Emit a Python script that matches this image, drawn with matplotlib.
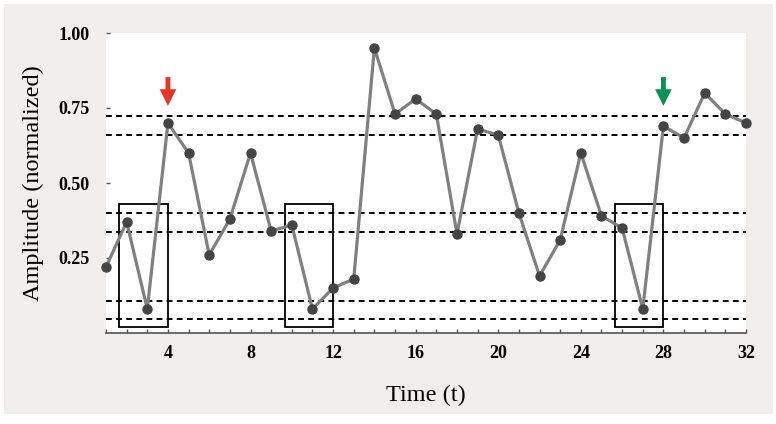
import matplotlib
matplotlib.use("Agg")
import matplotlib.pyplot as plt
from matplotlib.patches import Rectangle
from matplotlib.ticker import MultipleLocator, FixedLocator

t = list(range(1, 33))
amplitude = [0.22, 0.37, 0.08, 0.70, 0.60, 0.26, 0.38, 0.60, 0.34, 0.36,
             0.08, 0.15, 0.18, 0.95, 0.73, 0.78, 0.73, 0.33, 0.68, 0.66,
             0.40, 0.19, 0.31, 0.60, 0.39, 0.35, 0.08, 0.69, 0.65, 0.80,
             0.73, 0.70]
threshold_lines = [0.723, 0.660, 0.401, 0.337, 0.108, 0.046]
box_ends = [4, 12, 28]
box_width = 2.35
box_low, box_high = 0.02, 0.43
red_arrow_t = 4
green_arrow_t = 28
arrow_top, arrow_tip = 0.853, 0.757
yticks = [0.25, 0.50, 0.75, 1.00]
ytick_labels = ["0.25", "0.50", "0.75", "1.00"]
xticks = [4, 8, 12, 16, 20, 24, 28, 32]

fig = plt.figure(figsize=(7.76, 4.24), dpi=100, facecolor="white")
bg = Rectangle((4/776, 1-414/424), 769/776, 410/424,
               transform=fig.transFigure, facecolor="#f0efee",
               edgecolor="none", zorder=-10)
fig.patches.append(bg)
ax = fig.add_axes([106/776, 1-333/424, 640/776, 300/424])
ax.set_zorder(1)
ax.set_facecolor("white")
ax.set_xlim(1, 32)
ax.set_ylim(0, 1.0)

for y in threshold_lines:
    ax.axhline(y, color="black", lw=1.4, ls=(0, (3, 2.2)), zorder=2)

for e in box_ends:
    ax.add_patch(Rectangle((e - box_width, box_low), box_width, box_high - box_low,
                           fill=False, edgecolor="black", lw=1.3, zorder=3))

ax.plot(t, amplitude, color="#808080", lw=2.3, zorder=4, clip_on=False)
ax.plot(t, amplitude, ls="none", marker="o", ms=6.5, color="#444444",
        zorder=5, clip_on=False)

for xt, col in [(red_arrow_t, "#e8352a"), (green_arrow_t, "#0a9150")]:
    ax.annotate("", xy=(xt, arrow_tip), xytext=(xt, arrow_top),
                arrowprops=dict(arrowstyle="simple,head_width=1.2,head_length=1.2,tail_width=0.35",
                                color=col, mutation_scale=10, shrinkA=0, shrinkB=0, lw=0),
                zorder=6)

for s in ["left", "top", "right"]:
    ax.spines[s].set_visible(False)
ax.spines["bottom"].set_color("#555555")
ax.spines["bottom"].set_linewidth(1.2)

ax.xaxis.set_major_locator(FixedLocator(xticks))
ax.xaxis.set_minor_locator(MultipleLocator(1))
ax.set_yticks(yticks)
ax.set_yticklabels(ytick_labels)
ax.tick_params(axis="x", which="both", direction="in", length=3, width=1,
               color="#555555", pad=9)
ax.tick_params(axis="y", which="both", direction="in", length=3, width=1,
               color="#555555", pad=12)
for lab in ax.get_xticklabels() + ax.get_yticklabels():
    lab.set_fontfamily("Liberation Serif")
    lab.set_fontweight("bold")
    lab.set_fontsize(13)

ax.set_xlabel("Time (t)", fontfamily="Liberation Serif", fontsize=17.5, labelpad=16)
ax.set_ylabel("Amplitude (normalized)", fontfamily="Liberation Serif", fontsize=17.5, labelpad=10)

fig.savefig("out.png", dpi=100, facecolor="white")
